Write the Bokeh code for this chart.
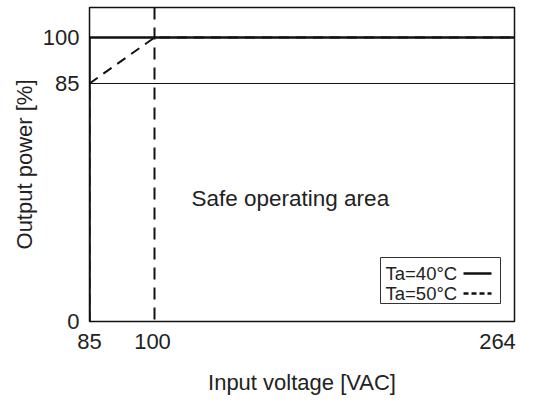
import numpy as np
from bokeh.plotting import figure
from bokeh.models import Range1d, FixedTicker, Span
from bokeh.core.properties import value
from bokeh.embed import file_html
from bokeh.resources import INLINE

# ---- data ----
x_ticks = [85, 100, 264]
y_ticks = [0, 85, 100]
x_tick_labels = ["85", "100", "264"]
y_tick_labels = ["0", "85", "100"]
ta40_v = [85, 85, 264]
ta40_p = [0, 100, 100]
ta50_v = [85, 85, 100, 264]
ta50_p = [0, 85, 100, 100]
legend_labels = ["Ta=40°C", "Ta=50°C"]
annotation = "Safe operating area"
x_label = "Input voltage [VAC]"
y_label = "Output power [%]"

# ---- schematic (piecewise) axis layout ----
X_POS = [0, 65, 425]
X_LABEL_POS = [0, 63, 408]   # where the tick labels sit (last one tucked inside)
Y_POS = [0, 238, 284]
Y_TOP = 314


def fx(v):
    return [float(a) for a in np.interp(v, x_ticks, X_POS)]


def fy(v):
    return [float(a) for a in np.interp(v, y_ticks, Y_POS)]


FONT = "Liberation Sans"
TXT = "#222222"
INK = "#111111"

p = figure(frame_width=425, frame_height=314, output_backend="svg", toolbar_location=None,
           x_range=Range1d(0, X_POS[-1]), y_range=Range1d(0, Y_TOP),
           min_border_left=89, min_border_right=18, min_border_top=7, min_border_bottom=68)
p.background_fill_color = "white"
p.border_fill_color = "white"
p.outline_line_color = INK
p.outline_line_width = 1.5
p.xgrid.visible = False
p.ygrid.visible = False

p.xaxis.ticker = FixedTicker(ticks=X_LABEL_POS)
p.xaxis.major_label_overrides = {X_LABEL_POS[i]: x_tick_labels[i] for i in range(3)}
p.yaxis.ticker = FixedTicker(ticks=Y_POS)
p.yaxis.major_label_overrides = {Y_POS[i]: y_tick_labels[i] for i in range(3)}
for ax in (p.xaxis[0], p.yaxis[0]):
    ax.axis_line_color = None
    ax.major_tick_line_color = None
    ax.minor_tick_line_color = None
    ax.major_label_text_font = FONT
    ax.major_label_text_font_size = "22px"
    ax.major_label_text_color = TXT
    ax.axis_label_text_font = FONT
    ax.axis_label_text_font_size = "22px"
    ax.axis_label_text_font_style = "normal"
    ax.axis_label_text_color = TXT
p.xaxis.axis_label = x_label
p.yaxis.axis_label = y_label
p.xaxis.major_label_standoff = 6
p.xaxis.axis_label_standoff = 18
p.yaxis.major_label_standoff = 4
p.yaxis.axis_label_standoff = 3

# reference lines
p.add_layout(Span(location=fy([85])[0], dimension="width", line_color=INK, line_width=1))
p.add_layout(Span(location=fx([100])[0], dimension="height", line_color=INK,
                  line_width=2, line_dash="12 8"))

# curves
p.line(fx(ta40_v), fy(ta40_p), line_color=INK, line_width=2.5)
p.line(fx(ta50_v), fy(ta50_p), line_color=INK, line_width=2, line_dash="10 7")

# annotation
p.text(x=[102], y=[123], text=[annotation], text_font=value(FONT), text_font_size="22.5px",
       text_color=TXT, text_baseline="middle", text_align="left")

# legend box (drawn manually: label left, line sample right)
p.quad(left=[291], right=[411], bottom=[18], top=[64], fill_color="white",
       line_color="#333333", line_width=1)
p.text(x=[296, 296], y=[48, 28], text=legend_labels, text_font=value(FONT),
       text_font_size="18.5px", text_color=TXT, text_baseline="middle", text_align="left")
p.segment(x0=[374], y0=[48], x1=[402], y1=[48], line_color=INK, line_width=2.5)
p.segment(x0=[374], y0=[28], x1=[402], y1=[28], line_color=INK, line_width=2.5,
          line_dash="5 3")

open("out.html", "w").write(file_html(p, INLINE))
